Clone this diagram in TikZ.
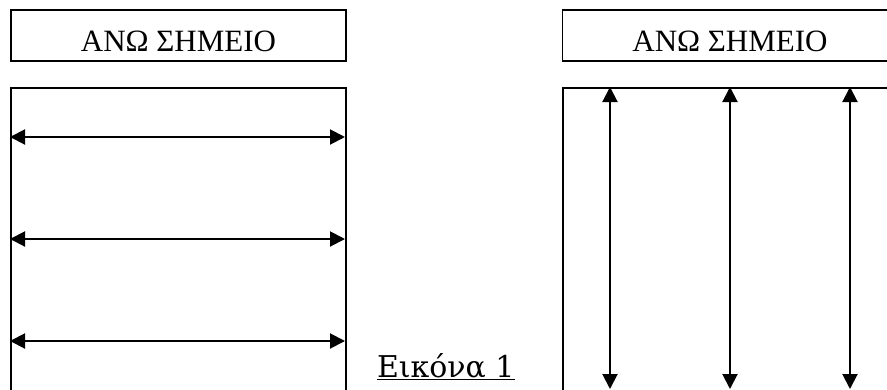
\documentclass[tikz,border=0pt]{standalone}
\usepackage{fontspec}
\setmainfont{Liberation Serif}
\newfontfamily\capfont{DejaVu Serif}
\usetikzlibrary{arrows.meta}
\begin{document}
\begin{tikzpicture}[x=1pt,y=-1pt,>={Triangle[length=15pt,width=15pt]},line width=2pt,
  header/.style={draw,line width=1.5pt,inner sep=0pt,minimum width=335pt,text height=41.5pt,text depth=9.5pt,font=\fontsize{31}{36}\selectfont},
  frame/.style={draw,line width=2pt,inner sep=0pt,minimum width=335pt,minimum height=304pt,anchor=north west}]
\useasboundingbox (0,0) rectangle (887,389);
\clip (0,0) rectangle (887,389);
\node[header] (h1) at (178.5,35.5) {ΑΝΩ ΣΗΜΕΙΟ};
\node[header] (h2) at (730,35.5) {ΑΝΩ ΣΗΜΕΙΟ};
\node[frame] (f1) at (10,87) {};
\node[frame] (f2) at (562,87) {};
\foreach \y [count=\i] in {137,239,341}{
  \coordinate (l\i) at (10,\y);
  \coordinate (r\i) at (345,\y);
  \draw[<->] (l\i) -- (r\i);
}
\foreach \x [count=\i] in {610,730,850}{
  \coordinate (t\i) at (\x,87);
  \coordinate (b\i) at (\x,389);
  \draw[<->] (t\i) -- (b\i);
}
\node[anchor=base west,inner sep=0pt,font=\capfont\fontsize{30}{36}\selectfont] (cap) at (376,377) {\underline{Εικόνα 1}};
\end{tikzpicture}
\end{document}
